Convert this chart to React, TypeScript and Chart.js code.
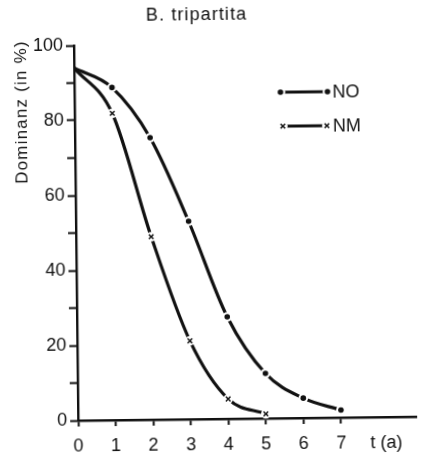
import React, { useEffect, useRef } from "react";
import { Chart, registerables } from "chart.js";

Chart.register(...registerables);

// Dominance (%) over time t (years)
const tNO = [0, 1, 2, 3, 4, 5, 6, 7];
const domNO = [94, 88.7, 75.2, 52.8, 27.2, 12, 5.3, 2];
const tNM = [0, 1, 2, 3, 4, 5];
const domNM = [94, 81.8, 48.8, 20.9, 5.3, 1.2];

const xTicks = [0, 1, 2, 3, 4, 5, 6, 7];
const xUnitPos = 8.2;
const xUnitLabel = "t (a)";
const seriesNames = ["NO", "NM"];
const titleText = "B. tripartita";
const yTitleText = "Dominanz (in %)";

const FONT = "'Liberation Sans', Arial, sans-serif";
const INK = "#111";

function drawMarker(ctx: CanvasRenderingContext2D, kind: string, x: number, y: number) {
  ctx.save();
  ctx.fillStyle = "#fff";
  ctx.beginPath();
  ctx.arc(x, y, 4.8, 0, Math.PI * 2);
  ctx.fill();
  ctx.fillStyle = INK;
  ctx.strokeStyle = INK;
  if (kind === "dot") {
    ctx.beginPath();
    ctx.arc(x, y, 2.8, 0, Math.PI * 2);
    ctx.fill();
  } else {
    ctx.lineWidth = 1.5;
    ctx.beginPath();
    ctx.moveTo(x - 2.3, y - 2.3);
    ctx.lineTo(x + 2.3, y + 2.3);
    ctx.moveTo(x + 2.3, y - 2.3);
    ctx.lineTo(x - 2.3, y + 2.3);
    ctx.stroke();
  }
  ctx.restore();
}

const decorations = {
  id: "decorations",
  afterDatasetsDraw(chart: any) {
    const ctx: CanvasRenderingContext2D = chart.ctx;
    const kinds = ["dot", "cross"];
    chart.data.datasets.forEach((_: any, i: number) => {
      const meta = chart.getDatasetMeta(i);
      meta.data.forEach((pt: any, j: number) => {
        if (j === 0) return;
        drawMarker(ctx, kinds[i], pt.x, pt.y);
      });
    });

    // title
    ctx.save();
    ctx.fillStyle = INK;
    ctx.font = `18px ${FONT}`;
    (ctx as any).letterSpacing = "1.1px";
    ctx.textAlign = "center";
    ctx.textBaseline = "middle";
    ctx.fillText(titleText, 199, 15);

    // y axis title
    ctx.translate(23, 110);
    ctx.rotate(-Math.PI / 2);
    ctx.font = `17px ${FONT}`;
    (ctx as any).letterSpacing = "1.2px";
    ctx.fillText(yTitleText, 0, 0);
    ctx.restore();

    // legend
    ctx.save();
    const rows = [
      { y: 93, x0: 282, x1: 329 },
      { y: 127, x0: 284, x1: 328 },
    ];
    rows.forEach((r, i) => {
      ctx.strokeStyle = INK;
      ctx.lineWidth = 3;
      ctx.beginPath();
      ctx.moveTo(r.x0 + 3, r.y);
      ctx.lineTo(r.x1 - 3, r.y);
      ctx.stroke();
      drawMarker(ctx, kinds[i], r.x0, r.y);
      drawMarker(ctx, kinds[i], r.x1, r.y);
      ctx.fillStyle = INK;
      ctx.font = `18px ${FONT}`;
      ctx.textAlign = "left";
      ctx.textBaseline = "middle";
      ctx.fillText(seriesNames[i], 334, r.y + 1);
    });
    ctx.restore();
  },
};

export default function App() {
  const ref = useRef<HTMLCanvasElement | null>(null);

  useEffect(() => {
    if (!ref.current) return;
    const lineStyle = {
      borderColor: INK,
      borderWidth: 3.2,
      pointRadius: 0,
      fill: false,
      cubicInterpolationMode: "monotone" as const,
    };
    const chart = new Chart(ref.current, {
      type: "line",
      data: {
        datasets: [
          { label: seriesNames[0], data: tNO.map((t, i) => ({ x: t, y: domNO[i] })), ...lineStyle },
          { label: seriesNames[1], data: tNM.map((t, i) => ({ x: t, y: domNM[i] })), ...lineStyle },
        ],
      },
      options: {
        animation: false,
        responsive: true,
        maintainAspectRatio: false,
        layout: { padding: { top: 44, right: 8, left: 0, bottom: 0 } },
        plugins: { legend: { display: false }, tooltip: { enabled: false }, title: { display: false } },
        scales: {
          x: {
            type: "linear",
            min: 0,
            max: 9,
            afterBuildTicks: (scale: any) => {
              scale.ticks = [...xTicks, xUnitPos].map((v) => ({ value: v }));
            },
            afterFit: (scale: any) => {
              scale.height = 36;
            },
            ticks: {
              autoSkip: false,
              maxRotation: 0,
              padding: 9,
              color: INK,
              font: { family: FONT, size: 18 },
              callback: (v: any) => (v === xUnitPos ? xUnitLabel : String(v)),
            },
            grid: {
              drawOnChartArea: false,
              tickLength: 6,
              tickWidth: 2,
              tickColor: (c: any) => (c.tick && c.tick.value === xUnitPos ? "rgba(0,0,0,0)" : INK),
            },
            border: { color: INK, width: 2.4 },
          },
          y: {
            min: 0,
            max: 100,
            afterFit: (scale: any) => {
              scale.width = 76;
            },
            ticks: {
              stepSize: 10,
              padding: 3,
              color: INK,
              font: { family: FONT, size: 18 },
              callback: (v: any) => (v % 20 === 0 ? String(v) : ""),
            },
            grid: { drawOnChartArea: false, tickLength: 8, tickWidth: 2, tickColor: INK },
            border: { color: INK, width: 2.4 },
          },
        },
      },
      plugins: [decorations],
    });
    return () => chart.destroy();
  }, []);

  return (
    <div
      style={{
        position: "absolute",
        left: 0,
        top: 0,
        width: 422,
        height: 455,
        background: "#fff",
        transform: "rotate(-0.65deg)",
        transformOrigin: "211px 227.5px",
      }}
    >
      <canvas ref={ref} />
    </div>
  );
}
